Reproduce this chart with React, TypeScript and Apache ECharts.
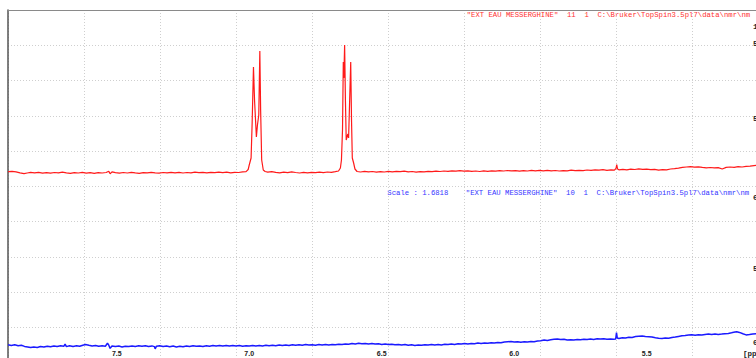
import React, { useEffect, useRef } from "react";
import * as echarts from "echarts";

// ppm range shown (axis runs right-to-left)
const ppmMin = 5.0875;
const ppmMax = 7.9104;
const ppmTicks = [7.5, 7.0, 6.5, 6.0, 5.5];

// right-edge (cut) intensity labels
const redTickValues = [146, 129, 54];
const redTickLabels = ["1", "5", "5"];
const blueTickValues = [148, 77, 3];
const blueTickLabels = ["6", "5", "0"];

const redHeader = '"EXT EAU MESSERGHINE"  11  1  C:\\Bruker\\TopSpin3.5pl7\\data\\nmr\\nm';
const blueHeader = 'Scale : 1.6818    "EXT EAU MESSERGHINE"  10  1  C:\\Bruker\\TopSpin3.5pl7\\data\\nmr\\nm';
const axisUnit = "[ppm]";

// red spectrum (top): [ppm, intensity]
const redSpectrum: [number, number][] = [
  [7.910, 0.3], [7.895, 0.6], [7.880, 0.1], [7.865, -0.8], [7.850, -1.6], [7.838, -1.0], [7.825, -0.4],
  [7.810, -0.9], [7.795, -0.3], [7.780, -1.1], [7.765, -0.6], [7.750, -1.2], [7.735, -0.5], [7.720, -0.9],
  [7.705, -0.2], [7.690, -0.8], [7.675, -1.3], [7.660, -0.6], [7.645, -1.0], [7.630, -0.4], [7.615, -1.1],
  [7.600, -0.7], [7.585, -1.3], [7.570, -0.6], [7.555, -1.0], [7.540, -0.5], [7.530, 0.8], [7.525, -1.8],
  [7.518, 0.2], [7.505, -0.7], [7.490, -1.2], [7.475, -0.5], [7.460, -1.0], [7.445, -0.4], [7.430, -0.9],
  [7.415, -1.3], [7.400, -0.6], [7.385, -0.9], [7.370, -0.3], [7.355, -0.8], [7.340, -1.1], [7.325, -0.5],
  [7.310, -0.9], [7.295, -0.3], [7.280, -0.8], [7.265, -0.4], [7.250, -1.0], [7.235, -0.5], [7.220, -0.8],
  [7.205, -0.2], [7.190, -0.7], [7.175, -0.3], [7.160, -0.9], [7.145, -0.4], [7.130, -0.7], [7.115, -0.1],
  [7.100, -0.6], [7.085, -0.2], [7.070, -0.8], [7.055, -0.3], [7.040, -0.5], [7.025, 0.1], [7.012, 0.4],
  [7.004, 2.5], [7.000, 7], [6.993, 14], [6.989, 49], [6.984, 105], [6.980, 72], [6.973, 35], [6.969, 47],
  [6.964, 57], [6.960, 121], [6.957, 62], [6.953, 12], [6.947, 2], [6.940, 0.5],
  [6.930, -0.2], [6.915, 0.3], [6.900, -0.4], [6.885, -0.8], [6.870, -0.2], [6.855, -0.6], [6.840, 0.1],
  [6.825, -0.5], [6.810, -1.0], [6.795, -0.4], [6.780, -0.8], [6.765, -0.3], [6.750, -0.7], [6.735, -0.2],
  [6.720, -0.6], [6.705, 0.0], [6.690, -0.4], [6.675, 0.3], [6.663, 1.0], [6.656, 4],
  [6.652, 12], [6.648, 42], [6.645, 110], [6.643, 94], [6.640, 127], [6.637, 72], [6.634, 32], [6.628, 38],
  [6.625, 34], [6.621, 72], [6.617, 110], [6.614, 52], [6.611, 14], [6.606, 9], [6.601, 3], [6.593, 0.5],
  [6.580, 0.0], [6.565, 0.6], [6.550, 0.1], [6.535, 0.5], [6.520, -0.1], [6.505, 0.4], [6.490, 0.0],
  [6.475, 0.6], [6.460, 0.2], [6.445, 0.7], [6.430, 0.3], [6.415, 0.8], [6.400, 0.2], [6.385, 0.5],
  [6.370, -0.1], [6.355, 0.4], [6.340, 0.1], [6.325, 0.7], [6.310, 0.3], [6.295, 0.9], [6.280, 0.5],
  [6.265, 1.0], [6.250, 0.6], [6.235, 1.2], [6.220, 0.8], [6.205, 1.3], [6.190, 0.8], [6.175, 1.1],
  [6.160, 0.6], [6.145, 1.0], [6.130, 0.5], [6.115, 1.1], [6.100, 0.7], [6.085, 1.2], [6.070, 0.9],
  [6.055, 1.4], [6.040, 1.0], [6.025, 1.5], [6.010, 1.1], [5.995, 1.3], [5.980, 0.9], [5.965, 1.4],
  [5.950, 1.0], [5.935, 1.6], [5.920, 1.2], [5.905, 1.7], [5.890, 1.2], [5.875, 1.6], [5.860, 1.1],
  [5.845, 1.5], [5.830, 1.0], [5.815, 1.4], [5.800, 1.2], [5.785, 1.8], [5.770, 1.3], [5.755, 1.7],
  [5.740, 1.4], [5.725, 2.0], [5.710, 1.6], [5.695, 2.2], [5.680, 1.8], [5.665, 2.3], [5.650, 1.7],
  [5.635, 2.1], [5.622, 1.8], [5.616, 3.5], [5.613, 7.5], [5.610, 3.0], [5.605, 2.2], [5.590, 2.6],
  [5.575, 2.2], [5.560, 2.9], [5.545, 2.5], [5.530, 3.1], [5.515, 2.6], [5.500, 2.9], [5.485, 2.3],
  [5.470, 2.7], [5.455, 1.9], [5.440, 2.4], [5.425, 2.2], [5.410, 3.0], [5.395, 3.4], [5.380, 3.9],
  [5.365, 4.6], [5.350, 5.0], [5.335, 5.4], [5.320, 4.8], [5.305, 5.2], [5.290, 4.6], [5.275, 4.2],
  [5.260, 4.5], [5.245, 4.1], [5.230, 4.4], [5.215, 3.0], [5.200, 4.6], [5.185, 5.0], [5.170, 4.6],
  [5.155, 5.3], [5.140, 5.0], [5.125, 5.6], [5.110, 5.9], [5.095, 6.4], [5.087, 6.6],
];

// blue spectrum (bottom): [ppm, intensity]
const blueSpectrum: [number, number][] = [
  [7.910, 0.3], [7.898, -0.4], [7.885, 0.2], [7.872, -0.8], [7.860, -0.3], [7.848, -1.4], [7.836, -1.9],
  [7.825, -2.6], [7.813, -2.0], [7.800, -2.4], [7.788, -1.6], [7.775, -2.1], [7.762, -1.2], [7.750, -1.8],
  [7.737, -0.9], [7.725, -1.5], [7.712, -0.8], [7.700, -1.3], [7.695, 0.9], [7.690, -1.6], [7.678, -0.7],
  [7.665, -1.4], [7.652, -0.8], [7.640, -1.2], [7.628, -0.2], [7.618, 0.4], [7.605, -0.3], [7.593, -0.9],
  [7.580, -0.5], [7.568, -1.3], [7.555, -0.7], [7.543, -1.2], [7.535, 1.8], [7.530, -0.2], [7.525, -3.4],
  [7.518, -1.0], [7.505, -1.6], [7.492, -1.1], [7.480, -1.9], [7.468, -1.2], [7.455, -1.6], [7.442, -0.9],
  [7.430, -1.4], [7.417, -0.8], [7.405, -1.3], [7.392, -0.7], [7.380, -1.5], [7.367, -0.9], [7.358, -1.6],
  [7.355, -3.8], [7.350, -1.2], [7.338, -0.8], [7.325, -1.4], [7.312, -0.9], [7.300, -1.7], [7.287, -1.1],
  [7.275, -1.9], [7.262, -1.3], [7.250, -1.8], [7.237, -1.0], [7.225, -1.5], [7.212, -0.8], [7.200, -1.3],
  [7.187, -0.9], [7.175, -1.4], [7.162, -0.7], [7.150, -1.2], [7.137, -0.6], [7.125, -1.1], [7.112, -0.5],
  [7.100, -1.0], [7.087, -0.4], [7.075, -0.9], [7.062, -0.5], [7.050, -1.1], [7.037, -0.6], [7.025, -1.2],
  [7.012, -0.7], [7.000, -1.1], [6.987, -0.5], [6.975, -1.0], [6.962, -0.4], [6.950, -0.9], [6.937, -0.3],
  [6.925, -0.8], [6.912, -0.2], [6.900, -0.7], [6.887, -0.1], [6.875, -0.6], [6.862, 0.0], [6.850, -0.5],
  [6.837, 0.2], [6.825, -0.3], [6.812, 0.3], [6.800, -0.2], [6.787, 0.4], [6.775, -0.1], [6.762, 0.3],
  [6.750, -0.2], [6.737, 0.4], [6.725, 0.0], [6.712, 0.5], [6.700, 0.1], [6.687, 0.6], [6.675, 0.2],
  [6.662, 0.8], [6.650, 0.4], [6.637, 1.1], [6.625, 0.8], [6.612, 1.5], [6.600, 1.1], [6.587, 1.8],
  [6.575, 1.3], [6.562, 1.6], [6.550, 1.0], [6.537, 1.4], [6.525, 0.9], [6.512, 1.2], [6.500, 0.6],
  [6.487, 1.0], [6.475, 0.4], [6.462, 0.8], [6.450, 0.2], [6.437, 0.6], [6.425, -0.1], [6.412, 0.4],
  [6.400, -0.3], [6.387, 0.2], [6.375, -0.4], [6.362, 0.1], [6.350, -0.3], [6.337, 0.3], [6.325, -0.1],
  [6.312, 0.4], [6.300, 0.0], [6.287, 0.5], [6.275, 0.1], [6.262, 0.7], [6.250, 0.4], [6.237, 1.0],
  [6.225, 0.6], [6.212, 1.2], [6.200, 0.9], [6.187, 1.4], [6.175, 1.0], [6.162, 1.6], [6.150, 1.3],
  [6.137, 1.9], [6.125, 1.5], [6.112, 2.0], [6.100, 1.7], [6.087, 2.3], [6.075, 1.9], [6.062, 2.6],
  [6.050, 2.2], [6.037, 2.9], [6.025, 3.2], [6.012, 3.5], [6.000, 3.0], [5.987, 3.3], [5.975, 2.7],
  [5.962, 3.2], [5.950, 3.0], [5.937, 3.6], [5.925, 3.3], [5.912, 4.0], [5.900, 4.3], [5.887, 4.9],
  [5.875, 4.6], [5.862, 5.3], [5.850, 5.7], [5.837, 5.9], [5.825, 5.4], [5.812, 5.8], [5.800, 5.1],
  [5.787, 5.3], [5.775, 4.9], [5.762, 5.4], [5.750, 5.2], [5.737, 5.7], [5.725, 5.5], [5.712, 6.0],
  [5.700, 5.6], [5.687, 6.2], [5.675, 5.9], [5.662, 6.3], [5.650, 5.8], [5.637, 6.1], [5.625, 5.7],
  [5.617, 6.0], [5.614, 12.5], [5.611, 7.0], [5.605, 6.5], [5.592, 7.2], [5.580, 7.0], [5.567, 7.8],
  [5.555, 7.6], [5.542, 8.4], [5.530, 8.8], [5.517, 9.1], [5.505, 8.6], [5.492, 8.3], [5.480, 8.0],
  [5.467, 7.3], [5.455, 6.8], [5.442, 6.5], [5.430, 6.9], [5.417, 6.7], [5.405, 7.4], [5.392, 7.9],
  [5.380, 8.6], [5.367, 9.2], [5.355, 9.5], [5.342, 9.9], [5.330, 10.2], [5.317, 9.8], [5.305, 10.3],
  [5.292, 10.1], [5.280, 10.6], [5.267, 10.9], [5.255, 10.5], [5.242, 11.0], [5.230, 10.6], [5.217, 10.9],
  [5.205, 11.3], [5.192, 11.6], [5.180, 12.2], [5.167, 12.9], [5.160, 13.2], [5.150, 12.6], [5.137, 11.2],
  [5.125, 10.1], [5.112, 10.4], [5.100, 10.9], [5.087, 11.2],
];

export default function App() {
  const ref = useRef<HTMLDivElement>(null);

  useEffect(() => {
    if (!ref.current) return;
    const chart = echarts.init(ref.current, null, { renderer: "svg" });
    const dotted = { color: "#cfcfcf", width: 1, type: [1, 2] as any };
    const monoFont = "'Liberation Mono', 'DejaVu Sans Mono', monospace";

    const rightLabel = (values: number[], labels: string[]) => ({
      show: true,
      customValues: values,
      margin: 0,
      fontSize: 8,
      fontWeight: "bold",
      fontFamily: monoFont,
      color: "#222",
      formatter: (v: number) => {
        const i = values.indexOf(v);
        return i >= 0 ? labels[i] : "";
      },
    });

    const gridBase = { left: 8, width: 748, outerBoundsMode: "none", containLabel: false };

    chart.setOption({
      animation: false,
      backgroundColor: "#ffffff",
      grid: [
        { ...gridBase, top: 10, height: 348 },
        { ...gridBase, top: 10, height: 176 },
        { ...gridBase, top: 186, height: 164 },
      ],
      xAxis: [
        {
          gridIndex: 0, type: "value", min: 0, max: 748, interval: 76, position: "top",
          axisLine: { show: true, lineStyle: { color: "#8a8a8a", width: 1 } },
          axisTick: { show: false }, axisLabel: { show: false },
          splitLine: { show: true, lineStyle: dotted },
        },
        {
          gridIndex: 1, type: "value", min: ppmMin, max: ppmMax, inverse: true, show: false,
        },
        {
          gridIndex: 2, type: "value", min: ppmMin, max: ppmMax, inverse: true,
          axisLine: { show: false }, axisTick: { show: false }, splitLine: { show: false },
          axisLabel: {
            show: true,
            customValues: ppmTicks,
            margin: 0,
            fontSize: 7,
            fontWeight: "bold",
            fontFamily: "'Liberation Sans', Arial, sans-serif",
            color: "#222",
            formatter: (v: number) => v.toFixed(1),
          },
        },
      ],
      yAxis: [
        {
          gridIndex: 0, type: "value", min: 0, max: 348, interval: 35.25, inverse: true, position: "left",
          axisLine: { show: true, lineStyle: { color: "#555", width: 1.5 } },
          axisTick: { show: false }, axisLabel: { show: false },
          splitLine: { show: true, lineStyle: dotted },
        },
        {
          gridIndex: 1, type: "value", min: -14, max: 162, position: "right", offset: -3,
          axisLine: { show: false }, axisTick: { show: false }, splitLine: { show: false },
          axisLabel: rightLabel(redTickValues, redTickLabels),
        },
        {
          gridIndex: 2, type: "value", min: -5, max: 159, position: "right", offset: -3,
          axisLine: { show: false }, axisTick: { show: false }, splitLine: { show: false },
          axisLabel: rightLabel(blueTickValues, blueTickLabels),
        },
      ],
      series: [
        {
          type: "line", xAxisIndex: 1, yAxisIndex: 1, data: redSpectrum, showSymbol: false,
          lineStyle: { color: "#ff1a1a", width: 1.2 }, z: 5,
        },
        {
          type: "line", xAxisIndex: 2, yAxisIndex: 2, data: blueSpectrum, showSymbol: false,
          lineStyle: { color: "#1a1aff", width: 1.5 }, z: 5,
        },
      ],
      graphic: [
        {
          type: "text", x: 466.7, y: 15,
          style: { text: redHeader, fill: "#ff3030", fontSize: 7.27, fontFamily: monoFont, verticalAlign: "middle", align: "left" },
        },
        {
          type: "text", x: 387.3, y: 192.5,
          style: { text: blueHeader, fill: "#3535ff", fontSize: 7.27, fontFamily: monoFont, verticalAlign: "middle", align: "left" },
        },
        {
          type: "text", x: 743, y: 354,
          style: { text: axisUnit, fill: "#222", fontSize: 7.5, fontWeight: "bold", fontFamily: monoFont, verticalAlign: "middle", align: "left" },
        },
      ],
    });

    return () => chart.dispose();
  }, []);

  return (
    <div style={{ position: "fixed", left: 0, top: 0, width: 756, height: 358, overflow: "hidden", background: "#fff" }}>
      <div ref={ref} style={{ width: 756, height: 358 }} />
    </div>
  );
}
